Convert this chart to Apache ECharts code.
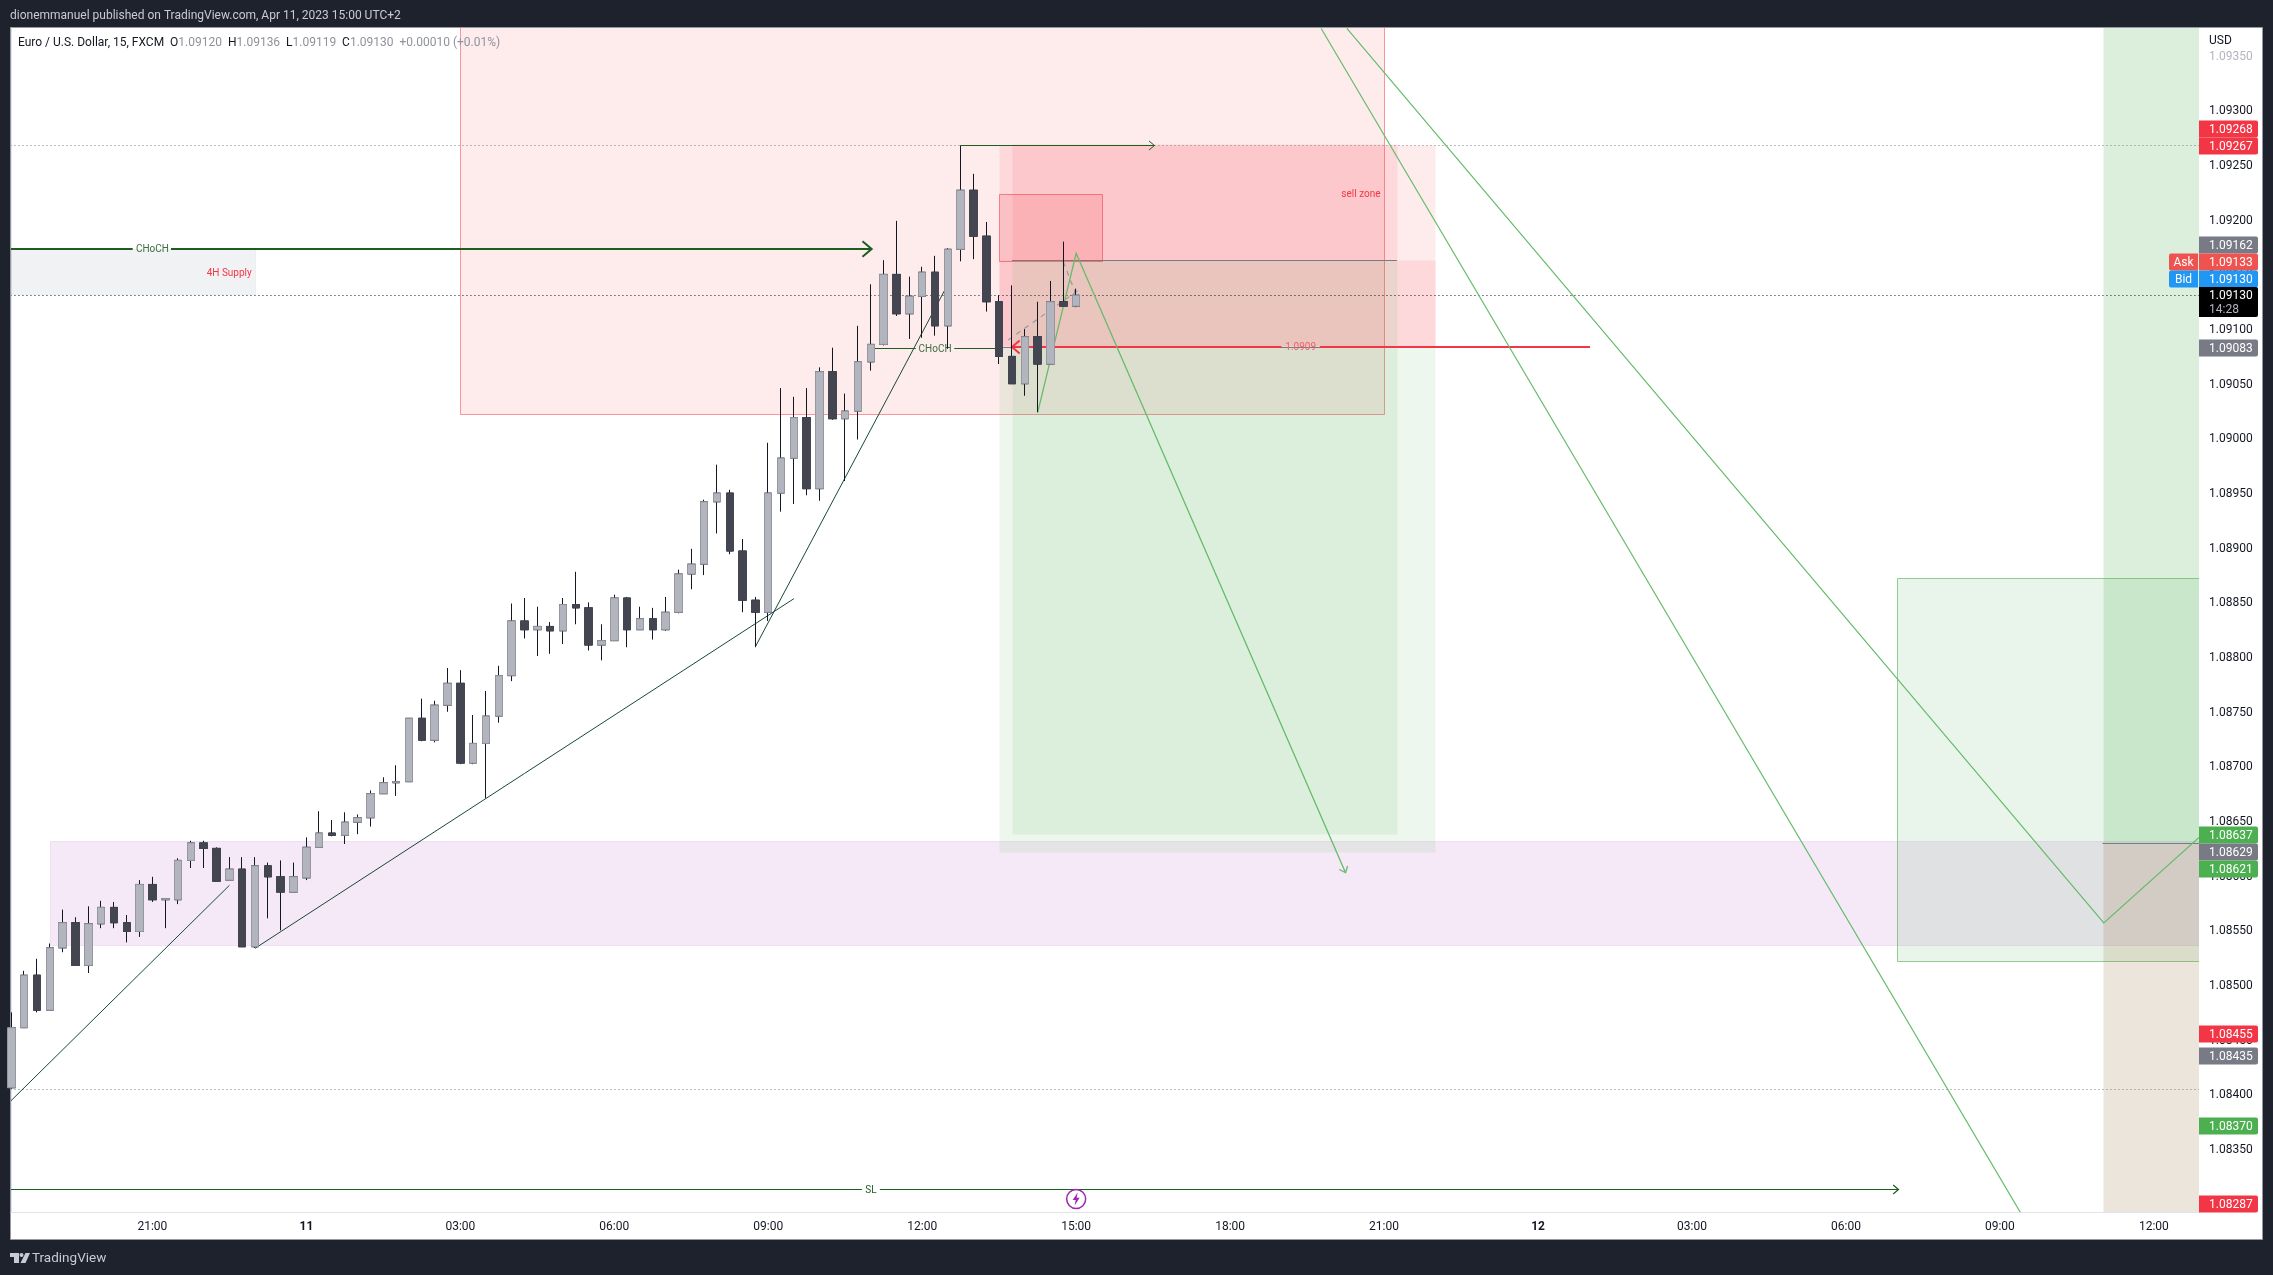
<!DOCTYPE html>
<html>
<head>
	<meta charset="utf-8">
	<title>Euro / U.S. Dollar, 15, FXCM</title>
	<script src="https://cdn.jsdelivr.net/npm/echarts@6/dist/echarts.min.js"></script>
	<style type="text/css">
		html,body{margin:0;padding:0;background:#1e222d;}
		#chartContainer{width:2273px;height:1275px;}
	</style>
</head>
<body>
<div id="chartContainer"></div>
<script type="text/javascript">
// candles, 15 minute bars, index 0 is the first bar on the left
var opens=[1.08405,1.08460,1.08508,1.08476,1.08533,1.08556,1.08517,1.08555,1.08570,1.08556,1.08548,1.08591,
	1.08577,1.08577,1.08613,1.08629,1.08624,1.08595,1.08605,1.08534,1.08608,1.08598,1.08584,1.08597,
	1.08625,1.08638,1.08636,1.08648,1.08652,1.08674,1.08684,1.08685,1.08743,1.08723,1.08755,1.08775,
	1.08702,1.08720,1.08745,1.08782,1.08832,1.08824,1.08827,1.08823,1.08847,1.08844,1.08810,1.08814,
	1.08853,1.08824,1.08834,1.08824,1.08840,1.08875,1.08884,1.08941,1.08949,1.08896,1.08851,1.08840,
	1.08949,1.08981,1.09018,1.08953,1.09060,1.09017,1.09024,1.09069,1.09085,1.09149,1.09113,1.09129,
	1.09151,1.09102,1.09172,1.09226,1.09184,1.09124,1.09074,1.09049,1.09092,1.09067,1.09124,1.09120];
var highs=[1.08474,1.08512,1.08523,1.08537,1.08568,1.08561,1.08571,1.08576,1.08575,1.08563,1.08595,1.08598,
	1.08578,1.08615,1.08631,1.08631,1.08625,1.08616,1.08616,1.08616,1.08611,1.08613,1.08611,1.08634,
	1.08658,1.08650,1.08657,1.08655,1.08677,1.08689,1.08700,1.08743,1.08761,1.08759,1.08789,1.08787,
	1.08746,1.08768,1.08791,1.08848,1.08853,1.08845,1.08831,1.08853,1.08877,1.08849,1.08829,1.08856,
	1.08854,1.08845,1.08844,1.08854,1.08879,1.08898,1.08943,1.08975,1.08952,1.08907,1.08854,1.08995,
	1.09045,1.09037,1.09045,1.09064,1.09082,1.09040,1.09102,1.09140,1.09162,1.09198,1.09147,1.09156,
	1.09166,1.09173,1.09267,1.09241,1.09197,1.09130,1.09139,1.09099,1.09124,1.09143,1.09179,1.09136];
var lows=[1.08404,1.08460,1.08474,1.08476,1.08529,1.08517,1.08510,1.08551,1.08551,1.08538,1.08543,1.08575,
	1.08551,1.08573,1.08606,1.08606,1.08594,1.08595,1.08534,1.08533,1.08560,1.08549,1.08584,1.08595,
	1.08625,1.08635,1.08628,1.08637,1.08644,1.08674,1.08672,1.08685,1.08722,1.08721,1.08749,1.08701,
	1.08701,1.08670,1.08739,1.08777,1.08816,1.08800,1.08802,1.08811,1.08829,1.08805,1.08796,1.08814,
	1.08808,1.08824,1.08815,1.08823,1.08839,1.08861,1.08874,1.08912,1.08893,1.08840,1.08808,1.08832,
	1.08932,1.08939,1.08947,1.08942,1.09016,1.08960,1.08998,1.09061,1.09084,1.09111,1.09090,1.09091,
	1.09093,1.09081,1.09161,1.09163,1.09115,1.09067,1.09049,1.09038,1.09023,1.09067,1.09120,1.09119];
var closes=[1.08460,1.08508,1.08476,1.08533,1.08556,1.08517,1.08555,1.08570,1.08556,1.08548,1.08591,1.08577,
	1.08578,1.08613,1.08629,1.08624,1.08594,1.08605,1.08534,1.08608,1.08598,1.08584,1.08598,1.08625,
	1.08638,1.08636,1.08648,1.08652,1.08674,1.08684,1.08685,1.08743,1.08723,1.08755,1.08775,1.08702,
	1.08720,1.08745,1.08782,1.08832,1.08824,1.08827,1.08823,1.08847,1.08844,1.08810,1.08814,1.08853,
	1.08824,1.08834,1.08824,1.08840,1.08875,1.08884,1.08941,1.08949,1.08896,1.08851,1.08840,1.08949,
	1.08981,1.09018,1.08953,1.09060,1.09017,1.09024,1.09069,1.09085,1.09149,1.09113,1.09129,1.09151,
	1.09102,1.09172,1.09226,1.09184,1.09124,1.09074,1.09049,1.09092,1.09067,1.09124,1.09120,1.09130];

// axis ticks
var timeTickBars=[11,23,35,47,59,71,83,95,107,119,131,143,155,167];
var timeTickLabels=['21:00','11','03:00','06:00','09:00','12:00','15:00','18:00','21:00','12','03:00','06:00','09:00','12:00'];
var priceTicks=[1.0835,1.084,1.0845,1.085,1.0855,1.086,1.0865,1.087,1.0875,1.088,1.0885,1.089,1.0895,1.09,1.0905,1.091,1.0915,1.092,1.0925,1.093,1.0935];

// price tags on the scale: where the tag sits, its text
var tagAnchors=[1.092823,1.092667,1.091763,1.091603,1.091451,1.09082,1.086365,1.08621,1.086055,1.084545,1.084344,1.083698,1.082985];
var tagTexts=['1.09268','1.09267','1.09162','1.09133','1.09130','1.09083','1.08637','1.08629','1.08621','1.08455','1.08435','1.08370','1.08287'];
var lastPriceAnchor=1.091235;

// zones: first bar, last bar, low price, high price
var xMin=-0.023,xMax=170.52,yMin=1.082914,yMax=1.093744;
var sellZone=[35,107,1.090216,1.0939];
var supply4h=[-1,19,1.091317,1.091725];
var purpleBand=[3,172,1.08535,1.086305];
var shortStop=[77,111,1.09083,1.09267];
var shortStop2=[77,111,1.09083,1.09162];
var shortTarget=[77,111,1.08621,1.09083];
var nextStop=[78,108,1.09162,1.09268];
var nextTarget=[78,108,1.08637,1.09162];
var innerBox=[77,85,1.09161,1.092223];
var rightBox=[147,172,1.08521,1.088713];
var longTarget=[163,172,1.08629,1.0939];
var longStop=[163,172,1.0828,1.08629];

// trend lines: [bar, price] points
var trend1=[[-0.1,1.083923],[17,1.085902]];
var trend2=[[19,1.085326],[61,1.088524]];
var trend3=[[58,1.088085],[73,1.0914]];
var chochBig1=[[-1,1.091725],[9.46,1.091725]];
var chochBig2=[[12.45,1.091725],[67.06,1.091725]];
var chochSmall1=[[67,1.090814],[70.5,1.090814]];
var chochSmall2=[[73.5,1.090814],[77,1.090814]];
var topArrow=[[74,1.09267],[89.1,1.09267]];
var redLine1=[[99,1.09083],[78,1.09083]];
var redLine2=[[102,1.09083],[123.05,1.09083]];
var slLine1=[[-1,1.083122],[66.3,1.083122]];
var slLine2=[[67.7,1.083122],[147.1,1.083122]];
var zigzag=[[80,1.090225],[83,1.091683],[104,1.086018]];
var fall1=[[102.1,1.09374],[156.6,1.08291]];
var fall2=[[104.1,1.09374],[163.1,1.085558],[170.52,1.08634]];
var dashed1=[[77.7,1.09089],[83.3,1.091356]];
var dashed2=[[82,1.091606],[83,1.091301]];
var dotTop=[[-1,1.09267],[172,1.09267]];
var dotLast=[[-1,1.0913],[172,1.0913]];
var dotLow=[[-1,1.08404],[172,1.08404]];
var shortEntry=[[77,1.09083],[111,1.09083]];
var nextEntry=[[78,1.09162],[108,1.09162]];
var longEntry=[[163,1.08629],[172,1.08629]];
var newsMark=[83,1.083033];

var RED='rgba(242,54,69,0.1)',GREEN='rgba(76,175,80,0.1)',LINE_GREEN='#1b5e20',TEAL='#17493a',SOFT_GREEN='#66bb6a',FONT='Roboto, sans-serif';

var zones=[
	{z:purpleBand,fill:'rgba(156,39,176,0.1)',stroke:'rgba(156,39,176,0.1)'},
	{z:supply4h,fill:'rgba(120,123,134,0.1)',stroke:'rgba(120,123,134,0.08)'},
	{z:sellZone,fill:RED,stroke:'rgba(242,54,69,0.5)'},
	{z:shortStop,fill:RED},
	{z:shortStop2,fill:RED},
	{z:shortTarget,fill:GREEN},
	{z:nextStop,fill:RED},
	{z:nextTarget,fill:GREEN},
	{z:innerBox,fill:'rgba(242,54,69,0.15)',stroke:'rgba(242,54,69,0.55)'},
	{z:rightBox,fill:'rgba(76,175,80,0.12)',stroke:'rgba(76,175,80,0.6)'},
	{z:longTarget,fill:'rgba(76,175,80,0.2)'},
	{z:longStop,fill:RED},
	{z:longStop,fill:GREEN}
];

var lines=[
	{p:dotTop,color:'#787b86',width:1,dash:[1,3]},
	{p:dotLast,color:'#131722',width:1,dash:[1,3]},
	{p:dotLow,color:'#787b86',width:1,dash:[1,3]},
	{p:shortEntry,color:'#787b86',width:1},
	{p:nextEntry,color:'#787b86',width:1},
	{p:longEntry,color:'#787b86',width:1},
	{p:trend1,color:TEAL,width:1},
	{p:trend2,color:TEAL,width:1},
	{p:trend3,color:TEAL,width:1},
	{p:chochBig1,color:LINE_GREEN,width:2},
	{p:chochBig2,color:LINE_GREEN,width:2,head:12},
	{p:chochSmall1,color:LINE_GREEN,width:1},
	{p:chochSmall2,color:LINE_GREEN,width:1,head:5},
	{p:topArrow,color:LINE_GREEN,width:1,head:7},
	{p:redLine1,color:'#f23645',width:2,head:10},
	{p:redLine2,color:'#f23645',width:2},
	{p:slLine1,color:LINE_GREEN,width:1.2},
	{p:slLine2,color:LINE_GREEN,width:1.2,head:7},
	{p:zigzag,color:SOFT_GREEN,width:1.3,head:7},
	{p:fall1,color:SOFT_GREEN,width:1.2},
	{p:fall2,color:SOFT_GREEN,width:1.2},
	{p:dashed1,color:'#9598a1',width:1.2,dash:[5,5]},
	{p:dashed2,color:'#9598a1',width:1.2,dash:[5,5]}
];

// text on the chart: bar, price, text
var notes=[
	{at:[11,1.091725],text:'CHoCH',color:'#3c6e41',align:'center'},
	{at:[72,1.090814],text:'CHoCH',color:'#3c6e41',align:'center'},
	{at:[18.74,1.091503],text:'4H Supply',color:'#f23645',align:'right'},
	{at:[105.2,1.092234],text:'sell zone',color:'#f23645',align:'center'},
	{at:[100.5,1.09083],text:'1.0909',color:'#f0606c',align:'center'},
	{at:[67,1.083122],text:'SL',color:LINE_GREEN,align:'center'}
];

function renderZone(params,api){
	var item=zones[params.dataIndex],z=item.z;
	var a=api.coord([z[0],z[3]]),b=api.coord([z[1],z[2]]);
	var x=Math.round(a[0])+0.5,y=Math.round(a[1])+0.5;
	return {type:'rect',shape:{x:x,y:y,width:Math.round(b[0]-a[0]),height:Math.round(b[1]-a[1])},
		style:{fill:item.fill,stroke:item.stroke||'none',lineWidth:1}};
}

function renderLine(params,api){
	var item=lines[params.dataIndex];
	var pts=item.p.map(function(pt){return api.coord(pt);});
	var flat=pts[0][1]===pts[pts.length-1][1];
	if(flat){
		pts=pts.map(function(pt){return [pt[0],item.width>=2?Math.round(pt[1]):Math.round(pt[1])+0.5];});
	}
	var children=[{type:'polyline',shape:{points:pts},
		style:{stroke:item.color,lineWidth:item.width,lineDash:item.dash||null,fill:'none'}}];
	if(item.head){
		var tip=pts[pts.length-1],from=pts[pts.length-2];
		var ang=Math.atan2(tip[1]-from[1],tip[0]-from[0]),h=item.head;
		children.push({type:'polyline',shape:{points:[
			[tip[0]-h*Math.cos(ang-0.7),tip[1]-h*Math.sin(ang-0.7)],
			tip,
			[tip[0]-h*Math.cos(ang+0.7),tip[1]-h*Math.sin(ang+0.7)]
		]},style:{stroke:item.color,lineWidth:item.width,fill:'none'}});
	}
	return {type:'group',children:children};
}

function renderNote(params,api){
	var item=notes[params.dataIndex],c=api.coord(item.at);
	return {type:'text',style:{text:item.text,x:c[0],y:c[1]+1,fill:item.color,align:item.align,verticalAlign:'middle',
		fontSize:10,fontFamily:FONT}};
}

function tagColor(text){
	if(text==='1.09268'||text==='1.09267'||text==='1.08455'||text==='1.08287') return '#f23645';
	if(text==='1.09162'||text==='1.09083'||text==='1.08629'||text==='1.08435') return '#787b86';
	if(text==='1.09133') return '#ef5350';
	if(text==='1.09130') return '#2196f3';
	return '#4caf50';
}

function renderTag(params,api){
	var text=tagTexts[params.dataIndex],c=api.coord([xMax,tagAnchors[params.dataIndex]]);
	var x=Math.round(c[0]),y=Math.round(c[1]);
	var color=tagColor(text);
	var children=[
		{type:'rect',shape:{x:x,y:y-8.5,width:59,height:17,r:[0,2,2,0]},style:{fill:color}},
		{type:'text',style:{text:text,x:x+10,y:y+1,fill:'#fff',verticalAlign:'middle',fontSize:12,fontFamily:FONT}}
	];
	if(text==='1.09133'||text==='1.09130'){
		var side=text==='1.09133'?'Ask':'Bid';
		children.push({type:'rect',shape:{x:x-30,y:y-8.5,width:29,height:17,r:[2,0,0,2]},style:{fill:color}});
		children.push({type:'text',style:{text:side,x:x-15.5,y:y+1,fill:'#fff',align:'center',verticalAlign:'middle',fontSize:12,fontFamily:FONT}});
	}
	return {type:'group',children:children};
}

function renderLastPrice(params,api){
	var c=api.coord([xMax,lastPriceAnchor]),x=Math.round(c[0]),y=Math.round(c[1]);
	return {type:'group',children:[
		{type:'rect',shape:{x:x,y:y-15,width:59,height:30,r:[0,2,2,0]},style:{fill:'#000'}},
		{type:'text',style:{text:closes[closes.length-1].toFixed(5),x:x+10,y:y-6,fill:'#fff',verticalAlign:'middle',fontSize:12,fontFamily:FONT}},
		{type:'text',style:{text:'14:28',x:x+10,y:y+8,fill:'#b2b5be',verticalAlign:'middle',fontSize:12,fontFamily:FONT}}
	]};
}

function renderNews(params,api){
	var c=api.coord(newsMark),x=c[0],y=c[1];
	return {type:'group',children:[
		{type:'circle',shape:{cx:x,cy:y,r:9.5},style:{fill:'#fff',stroke:'#9c27b0',lineWidth:1.5}},
		{type:'polygon',shape:{points:[[x+1.5,y-6.5],[x-3.5,y+1],[x-0.5,y+1],[x-1.5,y+6.5],[x+3.5,y-1.2],[x+0.5,y-1.2]]},style:{fill:'#9c27b0'}}
	]};
}

function customSeries(list,pick,render,z,clip){
	return {type:'custom',silent:true,clip:clip,z:z,renderItem:render,encode:{x:0,y:1},
		data:list.map(pick)};
}

var wickData=opens.map(function(o,i){return [i,o,closes[i],lows[i],highs[i]];});
var bodyData=opens.map(function(o,i){return [i,o,closes[i],Math.min(o,closes[i]),Math.max(o,closes[i])];});

var myChart=echarts.init(document.getElementById('chartContainer'));
var option={
	animation:false,
	backgroundColor:'#1e222d',
	title:[
		{text:'dionemmanuel published on TradingView.com, Apr 11, 2023 15:00 UTC+2',left:10,top:10,padding:0,
			textStyle:{color:'#c8cbd3',fontSize:12,fontWeight:'normal',fontFamily:FONT}},
		{text:'{d|Euro / U.S. Dollar, 15, FXCM}  {d|O}{v|1.09120}  {d|H}{v|1.09136}  {d|L}{v|1.09119}  {d|C}{v|1.09130}  {v|+0.00010 (+0.01%)}',left:18,top:37,padding:0,
			textStyle:{fontSize:12,fontFamily:FONT,fontWeight:'normal',rich:{
				d:{color:'#131722',fontSize:12,fontFamily:FONT},
				v:{color:'#8f929b',fontSize:12,fontFamily:FONT}
			}}},
		{text:'TradingView',left:32,top:1252,padding:0,textStyle:{color:'#c8cbd3',fontSize:13.5,fontWeight:'normal',fontFamily:FONT}}
	],
	graphic:[
		{type:'rect',z:-10,silent:true,shape:{x:10.5,y:27.5,width:2252,height:1212},style:{fill:'#fff',stroke:'#9598a1',lineWidth:1}},
		{type:'polygon',silent:true,shape:{points:[[10,1253],[19,1253],[19,1263],[14,1263],[14,1257],[10,1257]]},style:{fill:'#c8cbd3'}},
		{type:'circle',silent:true,shape:{cx:21.5,cy:1255,r:2},style:{fill:'#c8cbd3'}},
		{type:'polygon',silent:true,shape:{points:[[25.5,1253],[30,1253],[25.5,1263],[20.5,1263]]},style:{fill:'#c8cbd3'}},
		{type:'text',silent:true,z:20,style:{text:'USD',x:2209,y:41,fill:'#131722',fontSize:12,fontFamily:FONT,verticalAlign:'middle'}}
	],
	grid:{left:11,right:74,top:28,bottom:63,containLabel:false},
	xAxis:{
		type:'value',
		min:xMin,
		max:xMax,
		splitLine:{show:false},
		axisTick:{show:false},
		axisLine:{show:true,onZero:false,lineStyle:{color:'#e0e3eb'}},
		axisLabel:{
			customValues:timeTickBars,
			margin:9,
			fontSize:12,
			fontFamily:FONT,
			color:'#131722',
			formatter:function(v){
				var label=timeTickLabels[timeTickBars.indexOf(v)];
				return label.length<3?'{b|'+label+'}':label;
			},
			rich:{b:{fontWeight:'bold',fontSize:12,fontFamily:FONT,color:'#131722'}}
		}
	},
	yAxis:{
		type:'value',
		position:'right',
		scale:true,
		min:yMin,
		max:yMax,
		splitLine:{show:false},
		axisTick:{show:false},
		axisLine:{show:true,lineStyle:{color:'#e0e3eb'}},
		axisLabel:{
			customValues:priceTicks,
			margin:10,
			fontSize:12,
			fontFamily:FONT,
			color:function(v){return v>1.0934?'#b2b5be':'#131722';},
			formatter:function(v){return '{p|'+Number(v).toFixed(5)+'}';},
			rich:{p:{padding:[4,0,0,0],fontSize:12,fontFamily:FONT}}
		}
	},
	series:[
		customSeries(zones,function(it){return [it.z[0],it.z[2]];},renderZone,1,true),
		customSeries(lines,function(it){return it.p[0];},renderLine,1,true),
		customSeries(notes,function(it){return it.at;},renderNote,1,true),
		{
			type:'candlestick',
			silent:true,
			z:3,
			barWidth:8,
			encode:{x:0,y:[1,2,3,4]},
			itemStyle:{color:'#131722',color0:'#131722',borderColor:'#131722',borderColor0:'#131722',borderWidth:1},
			data:wickData
		},
		{
			type:'candlestick',
			silent:true,
			z:4,
			barWidth:8,
			encode:{x:0,y:[1,2,3,4]},
			itemStyle:{color:'#b2b5be',color0:'#434651',borderColor:'#9598a1',borderColor0:'#434651',borderWidth:1},
			data:bodyData
		},
		customSeries([newsMark],function(it){return it;},renderNews,5,true),
		customSeries(tagTexts,function(t,i){return [xMax,tagAnchors[i]];},renderTag,10,false),
		customSeries([lastPriceAnchor],function(p){return [xMax,p];},renderLastPrice,10,false)
	]
};
myChart.setOption(option);
</script>
</body>
</html>
